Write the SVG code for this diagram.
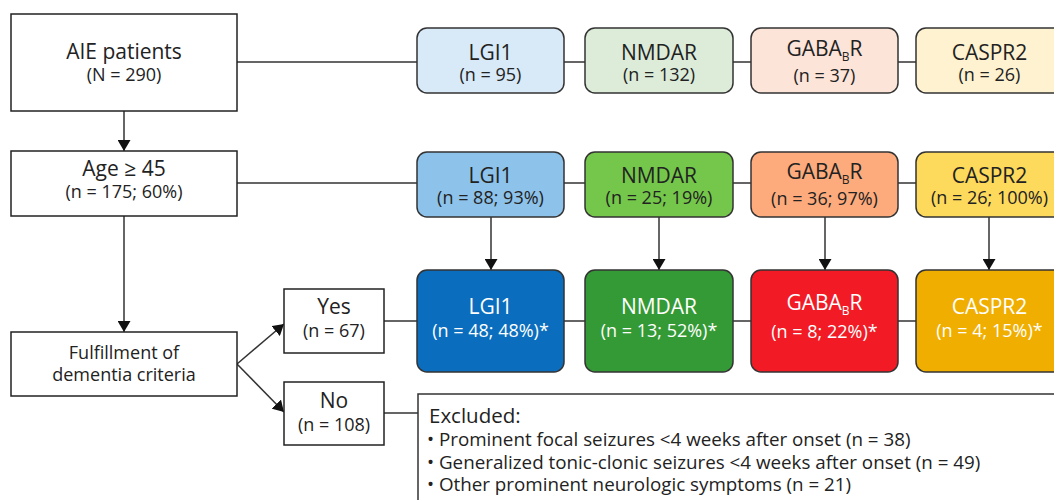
<svg xmlns="http://www.w3.org/2000/svg" width="1054" height="500" viewBox="0 0 1054 500">
<defs>
<marker id="arr" markerUnits="userSpaceOnUse" markerWidth="11" markerHeight="13" refX="11" refY="6.5" orient="auto">
<path d="M0,0 L11,6.5 L0,13 z" fill="#111"/>
</marker>
<style>
text{font-family:"Open Sans","Noto Sans","Liberation Sans",sans-serif;text-anchor:middle;fill:#222}
.t1{font-size:21px}
.t2{font-size:18px}
.sub{font-size:12px}
.w{fill:#fff}
.sq{fill:#fff;stroke:#222;stroke-width:1.5}
.rb{stroke:#333;stroke-width:1.5}
.ln{fill:none;stroke:#333;stroke-width:1.5}
.ex{font-family:"Open Sans","Noto Sans","Liberation Sans",sans-serif;text-anchor:start;fill:#222}
</style>
</defs>
<rect width="1054" height="500" fill="#fff"/>

<g id="connectors">
<path class="ln" d="M237,62 H417 M564,62 H585 M733,62 H751 M898,62 H916"/>
<path class="ln" d="M237,183 H417 M564,183 H585 M733,183 H751 M898,183 H916"/>
<path class="ln" d="M384,321 H417 M564,321 H585 M733,321 H751 M898,321 H916"/>
<path class="ln" d="M384,413 H418"/>
<line class="ln" x1="124" y1="111" x2="124" y2="151" marker-end="url(#arr)"/>
<line class="ln" x1="124" y1="216" x2="124" y2="332" marker-end="url(#arr)"/>
<line class="ln" x1="237" y1="364" x2="284" y2="324" marker-end="url(#arr)"/>
<line class="ln" x1="237" y1="364" x2="284" y2="412" marker-end="url(#arr)"/>
<line class="ln" x1="491" y1="217" x2="491" y2="270" marker-end="url(#arr)"/>
<line class="ln" x1="659" y1="217" x2="659" y2="270" marker-end="url(#arr)"/>
<line class="ln" x1="825" y1="217" x2="825" y2="270" marker-end="url(#arr)"/>
<line class="ln" x1="989" y1="217" x2="989" y2="270" marker-end="url(#arr)"/>
</g>

<g id="aie">
<rect class="sq" x="11" y="14" width="226" height="97"/>
<text class="t1" x="124" y="59">AIE patients</text>
<text class="t2" x="124" y="81">(N = 290)</text>
</g>
<g id="age">
<rect class="sq" x="11" y="151" width="226" height="65"/>
<text class="t1" x="124" y="176">Age ≥ 45</text>
<text class="t2" x="124" y="198">(n = 175; 60%)</text>
</g>
<g id="fulfillment">
<rect class="sq" x="11" y="332" width="226" height="64"/>
<text class="t2" x="124" y="359">Fulfillment of</text>
<text class="t2" x="124" y="381">dementia criteria</text>
</g>
<g id="yes">
<rect class="sq" x="284" y="289" width="100" height="64"/>
<text class="t1" x="334" y="314">Yes</text>
<text class="t2" x="334" y="337">(n = 67)</text>
</g>
<g id="no">
<rect class="sq" x="284" y="382" width="100" height="63"/>
<text class="t1" x="334" y="408">No</text>
<text class="t2" x="334" y="431">(n = 108)</text>
</g>

<g id="lgi1-all">
<rect class="rb" x="417" y="28" width="147" height="65" rx="10" fill="#d8e9f8"/>
<text class="t1" x="490.5" y="60">LGI1</text>
<text class="t2" x="490.5" y="81">(n = 95)</text>
</g>
<g id="nmdar-all">
<rect class="rb" x="585" y="28" width="148" height="65" rx="10" fill="#dcecd8"/>
<text class="t1" x="659" y="60">NMDAR</text>
<text class="t2" x="659" y="81">(n = 132)</text>
</g>
<g id="gabab-all">
<rect class="rb" x="751" y="28" width="147" height="65" rx="10" fill="#fde4d8"/>
<text class="t1" x="824.5" y="56">GABA<tspan class="sub" dy="5">B</tspan><tspan dy="-5">R</tspan></text>
<text class="t2" x="824.5" y="82">(n = 37)</text>
</g>
<g id="caspr2-all">
<rect class="rb" x="916" y="28" width="147" height="65" rx="10" fill="#fff2d0"/>
<text class="t1" x="989.5" y="60">CASPR2</text>
<text class="t2" x="989.5" y="81">(n = 26)</text>
</g>

<g id="lgi1-age">
<rect class="rb" x="417" y="152" width="147" height="65" rx="10" fill="#8dc3ea"/>
<text class="t1" x="490.5" y="183">LGI1</text>
<text class="t2" x="490.5" y="204">(n = 88; 93%)</text>
</g>
<g id="nmdar-age">
<rect class="rb" x="585" y="152" width="148" height="65" rx="10" fill="#74c74a"/>
<text class="t1" x="659" y="183">NMDAR</text>
<text class="t2" x="659" y="204">(n = 25; 19%)</text>
</g>
<g id="gabab-age">
<rect class="rb" x="751" y="152" width="147" height="65" rx="10" fill="#fdab7c"/>
<text class="t1" x="824.5" y="179">GABA<tspan class="sub" dy="5">B</tspan><tspan dy="-5">R</tspan></text>
<text class="t2" x="824.5" y="205">(n = 36; 97%)</text>
</g>
<g id="caspr2-age">
<rect class="rb" x="916" y="152" width="147" height="65" rx="10" fill="#fdd95c"/>
<text class="t1" x="989.5" y="183">CASPR2</text>
<text class="t2" x="989.5" y="204">(n = 26; 100%)</text>
</g>

<g id="lgi1-dem">
<rect class="rb" x="417" y="270" width="147" height="102" rx="10" fill="#0a6dbd"/>
<text class="t1 w" x="490.5" y="314">LGI1</text>
<text class="t2 w" x="490.5" y="337">(n = 48; 48%)*</text>
</g>
<g id="nmdar-dem">
<rect class="rb" x="585" y="270" width="148" height="102" rx="10" fill="#349a35"/>
<text class="t1 w" x="659" y="314">NMDAR</text>
<text class="t2 w" x="659" y="337">(n = 13; 52%)*</text>
</g>
<g id="gabab-dem">
<rect class="rb" x="751" y="270" width="147" height="102" rx="10" fill="#f11a25"/>
<text class="t1 w" x="824.5" y="310">GABA<tspan class="sub" dy="5">B</tspan><tspan dy="-5">R</tspan></text>
<text class="t2 w" x="824.5" y="338">(n = 8; 22%)*</text>
</g>
<g id="caspr2-dem">
<rect class="rb" x="916" y="270" width="147" height="102" rx="10" fill="#f0ae00"/>
<text class="t1 w" x="989.5" y="314">CASPR2</text>
<text class="t2 w" x="989.5" y="337">(n = 4; 15%)*</text>
</g>

<g id="excluded">
<rect x="418" y="394" width="700" height="160" fill="#fff" stroke="#333" stroke-width="1.5"/>
<text class="ex" x="429" y="423" font-size="20.5">Excluded:</text>
<text class="ex" x="427" y="446" font-size="18.8">• Prominent focal seizures &lt;4 weeks after onset (n = 38)</text>
<text class="ex" x="427" y="469" font-size="18.8">• Generalized tonic-clonic seizures &lt;4 weeks after onset (n = 49)</text>
<text class="ex" x="427" y="491" font-size="18.8">• Other prominent neurologic symptoms (n = 21)</text>
</g>
</svg>
